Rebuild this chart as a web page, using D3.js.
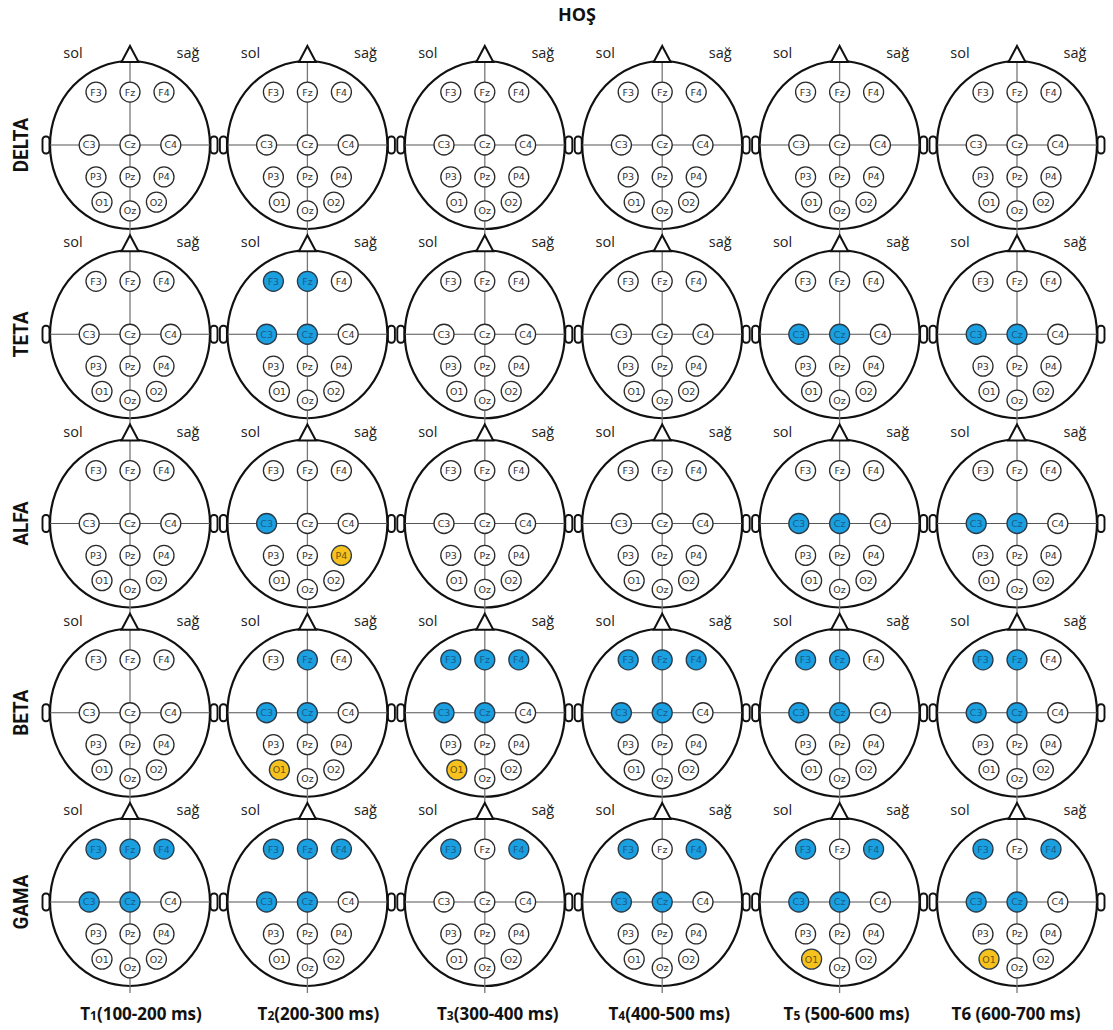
<!DOCTYPE html>
<html>
<head>
<meta charset="utf-8">
<script src="https://cdn.jsdelivr.net/npm/d3@7"></script>
<style>
  html, body { margin: 0; padding: 0; background: #fff; }
  svg { display: block; }
</style>
</head>
<body>
<svg id="chart" width="1113" height="1030"></svg>
<script>
// Frequency bands (rows) and time windows (columns)
const bands = ["DELTA", "TETA", "ALFA", "BETA", "GAMA"];
const windowNames = ["T1", "T2", "T3", "T4", "T5", "T6"];
const windowRanges = ["(100-200 ms)", "(200-300 ms)", "(300-400 ms)", "(400-500 ms)", " (500-600 ms)", " (600-700 ms)"];

// Electrode montage in normalised head coordinates (x: left→right, y: front→back)
const electrodeNames = ["F3", "Fz", "F4", "C3", "Cz", "C4", "P3", "Pz", "P4", "O1", "Oz", "O2"];
const electrodeX = [-0.425, 0, 0.425, -0.51, 0, 0.51, -0.425, 0, 0.425, -0.35, 0, 0.33];
const electrodeY = [-0.63, -0.63, -0.63, 0, 0, 0, 0.38, 0.38, 0.38, 0.68, 0.785, 0.68];

// Significant sites per band, one list per time window
const deltaUp = [[], [], [], [], [], []];
const tetaUp = [[], ["F3", "Fz", "C3", "Cz"], [], [], ["C3", "Cz"], ["C3", "Cz"]];
const alfaUp = [[], ["C3"], [], [], ["C3", "Cz"], ["C3", "Cz"]];
const betaUp = [[], ["Fz", "C3", "Cz"], ["F3", "Fz", "F4", "C3", "Cz"], ["F3", "Fz", "F4", "C3", "Cz"], ["F3", "Fz", "C3", "Cz"], ["F3", "Fz", "C3", "Cz"]];
const gamaUp = [["F3", "Fz", "F4", "C3", "Cz"], ["F3", "Fz", "F4", "C3", "Cz"], ["F3", "F4"], ["F3", "F4", "C3", "Cz"], ["F3", "F4", "C3", "Cz"], ["F3", "F4", "C3", "Cz"]];

const deltaDown = [[], [], [], [], [], []];
const tetaDown = [[], [], [], [], [], []];
const alfaDown = [[], ["P4"], [], [], [], []];
const betaDown = [[], ["O1"], ["O1"], [], [], []];
const gamaDown = [[], [], [], [], ["O1"], ["O1"]];

const upSites = [deltaUp, tetaUp, alfaUp, betaUp, gamaUp];
const downSites = [deltaDown, tetaDown, alfaDown, betaDown, gamaDown];

const title = "HOŞ";
const leftLabel = "sol";
const rightLabel = "sağ";

// ---- drawing ----
const svg = d3.select("#chart");
const BLUE = "#1a9fe0", YELLOW = "#f7c21e";
const RX = 80, RY = 84, ER = 10;

const col = d3.scalePoint().domain(windowNames).range([130, 1017]);
const row = d3.scalePoint().domain(bands).range([145, 902]);
const hx = d3.scaleLinear().domain([-1, 1]).range([-RX, RX]);
const hy = d3.scaleLinear().domain([-1, 1]).range([-RY, RY]);

const electrodes = electrodeNames.map((n, i) => ({ name: n, x: electrodeX[i], y: electrodeY[i] }));

svg.append("text")
  .attr("x", 577).attr("y", 21)
  .attr("text-anchor", "middle")
  .style("font-family", "'Open Sans', sans-serif")
  .style("font-weight", 700).style("font-size", "18px")
  .attr("fill", "#111")
  .text(title);

const cells = [];
bands.forEach((b, bi) => windowNames.forEach((w, wi) => cells.push({ band: b, bi, win: w, wi })));

const head = svg.selectAll("g.head").data(cells).join("g")
  .attr("class", "head")
  .attr("transform", d => `translate(${col(d.win)},${row(d.band)})`);

// ears
head.selectAll("rect.ear").data([-1, 1]).join("rect")
  .attr("class", "ear")
  .attr("x", s => s < 0 ? -RX - 7.5 : RX + 0.5)
  .attr("y", -8.5).attr("width", 7).attr("height", 17)
  .attr("rx", 3.2)
  .attr("fill", "#fff").attr("stroke", "#111").attr("stroke-width", 1.9);

// head outline
head.append("ellipse")
  .attr("rx", RX).attr("ry", RY)
  .attr("fill", "#fff").attr("stroke", "#111").attr("stroke-width", 2.2);

// midline cross
head.append("line")
  .attr("x1", 0).attr("x2", 0).attr("y1", -RY).attr("y2", RY + 7)
  .attr("stroke", "#777").attr("stroke-width", 1.3);
head.append("line")
  .attr("x1", -RX).attr("x2", RX).attr("y1", 0).attr("y2", 0)
  .attr("stroke", "#555").attr("stroke-width", 1.2);

// nose
head.append("path")
  .attr("d", `M0,${-RY - 15} L8.5,${-RY + 1} L-8.5,${-RY + 1} Z`)
  .attr("fill", "#fff").attr("stroke", "#111").attr("stroke-width", 2)
  .attr("stroke-linejoin", "miter");

// side labels
head.append("text")
  .attr("x", -57).attr("y", -RY - 3)
  .attr("text-anchor", "middle")
  .style("font-family", "'Open Sans', sans-serif").style("font-size", "14.5px")
  .attr("fill", "#222").text(leftLabel);
head.append("text")
  .attr("x", 58).attr("y", -RY - 3)
  .attr("text-anchor", "middle")
  .style("font-family", "'Open Sans', sans-serif").style("font-size", "14.5px")
  .attr("fill", "#222").text(rightLabel);

// electrodes
const site = head.selectAll("g.site")
  .data(d => electrodes.map(e => {
    const up = upSites[d.bi][d.wi].includes(e.name);
    const down = downSites[d.bi][d.wi].includes(e.name);
    return Object.assign({ state: up ? "up" : down ? "down" : "none" }, e);
  }))
  .join("g")
  .attr("class", "site")
  .attr("transform", e => `translate(${hx(e.x)},${hy(e.y)})`);

site.append("circle")
  .attr("r", ER)
  .attr("fill", e => e.state === "up" ? BLUE : e.state === "down" ? YELLOW : "#fff")
  .attr("stroke", e => e.state === "none" ? "#2a2a2a" : "#2a3a48")
  .attr("stroke-width", 1.3);

site.append("text")
  .attr("text-anchor", "middle").attr("dy", "0.36em")
  .style("font-family", "'DejaVu Sans', sans-serif").style("font-size", "9.5px")
  .attr("fill", e => e.state === "up" ? "#1d5b86" : e.state === "down" ? "#6b5410" : "#333")
  .text(e => e.name);

// band labels (rotated)
svg.selectAll("text.band").data(bands).join("text")
  .attr("class", "band")
  .attr("transform", b => `translate(28,${row(b)}) rotate(-90) scale(0.92,1)`)
  .attr("text-anchor", "middle")
  .style("font-family", "Roboto, sans-serif").style("font-weight", 700).style("font-size", "20.5px")
  .attr("fill", "#111")
  .text(b => b);

// time window labels
const labelOffset = [11, 11, 13, 7, 7, -1];
const smallDigit = [true, true, true, true, true, false];
const wl = svg.selectAll("text.win").data(windowNames).join("text")
  .attr("class", "win")
  .attr("x", (w, i) => col(w) + labelOffset[i]).attr("y", 1020)
  .attr("text-anchor", "middle")
  .style("font-family", "'Open Sans', sans-serif").style("font-weight", 700).style("font-size", "17px")
  .attr("fill", "#111");
wl.append("tspan").text(w => w[0]);
wl.append("tspan").style("font-size", (w, i) => smallDigit[i] ? "12px" : "17px").text(w => w.slice(1));
wl.append("tspan").text((w, i) => windowRanges[i]);
</script>
</body>
</html>
